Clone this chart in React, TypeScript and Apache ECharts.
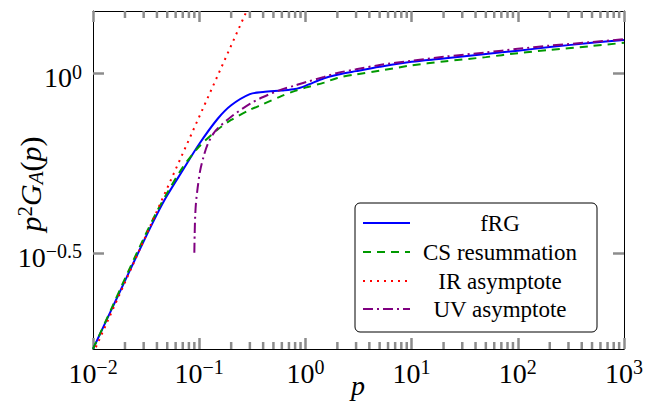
import React, { useEffect, useRef } from "react";
import * as echarts from "echarts";

// ---- data (p, p^2 G_A(p)) ----
const seriesNames = ["fRG", "CS resummation", "IR asymptote", "UV asymptote"];

const xTickExponents = [-2, -1, 0, 1, 2, 3];
const xTickLabels = ["−2", "−1", "0", "1", "2", "3"];
const yTickExponents = [-0.5, 0];
const yTickLabels = ["−0.5", "0"];

const fRGp = [0.01, 0.015, 0.02, 0.03, 0.04, 0.05, 0.07, 0.1, 0.15, 0.2, 0.3, 0.4, 0.6, 0.8, 1, 1.5, 2, 3, 5, 10, 20, 50, 100, 200, 500, 1000];
const fRGv = [0.1706, 0.2203, 0.2642, 0.3404, 0.4046, 0.4571, 0.537, 0.6353, 0.7482, 0.8147, 0.875, 0.8872, 0.8954, 0.9036, 0.9226, 0.9683, 0.9908, 1.0139, 1.0423, 1.0765, 1.099, 1.1324, 1.1561, 1.183, 1.2162, 1.2388];

const csP = [0.01, 0.015, 0.02, 0.03, 0.04, 0.05, 0.07, 0.1, 0.15, 0.2, 0.3, 0.4, 0.6, 0.8, 1, 1.5, 2, 3, 5, 10, 20, 50, 100, 200, 500, 1000];
const csV = [0.1706, 0.2218, 0.2679, 0.3467, 0.4121, 0.4645, 0.547, 0.6252, 0.6982, 0.7413, 0.7907, 0.8204, 0.865, 0.8933, 0.912, 0.9419, 0.9705, 0.9931, 1.0163, 1.052, 1.0789, 1.1092, 1.1376, 1.1614, 1.1912, 1.2162];

const irP = [0.01, 0.32];
const irV = [0.1656, 1.629];

const uvP = [0.09, 0.0906, 0.0916, 0.0933, 0.0966, 0.102, 0.11, 0.12, 0.136, 0.15, 0.2, 0.3, 0.4, 0.6, 0.8, 1, 1.5, 2, 3, 5, 10, 20, 50, 100, 200, 500, 1000];
const uvV = [0.3162, 0.3548, 0.3981, 0.4365, 0.4786, 0.5346, 0.5861, 0.6339, 0.6792, 0.7031, 0.7568, 0.8222, 0.859, 0.9016, 0.9247, 0.9441, 0.9772, 1.0023, 1.0257, 1.0544, 1.0839, 1.1117, 1.1429, 1.1695, 1.194, 1.2218, 1.2445];

const xRange = [0.01, 1000];
const yRange = [0.1706, 1.491];

const SERIF = '"Liberation Serif", "Times New Roman", serif';
const colors = ["#0000ff", "#009900", "#ff0000", "#800080"];
const dashes: (number[] | "solid")[] = ["solid", [8, 6], [2, 5], [10, 4, 2, 4]];

const toLog = (ps: number[], vs: number[]) => ps.map((p, i) => [Math.log10(p), Math.log10(vs[i])]);

export default function App() {
  const ref = useRef<HTMLDivElement>(null);

  useEffect(() => {
    if (!ref.current) return;
    const chart = echarts.init(ref.current, undefined, { renderer: "svg" });

    const xMin = Math.log10(xRange[0]);
    const xMax = Math.log10(xRange[1]);
    const yMin = Math.log10(yRange[0]);
    const yMax = Math.log10(yRange[1]);

    const minorX: number[] = [];
    for (let d = -2; d < 3; d++) {
      for (let k = 2; k <= 9; k++) minorX.push(d + Math.log10(k));
    }

    const rich = {
      b: { fontSize: 28, fontFamily: SERIF, lineHeight: 30, verticalAlign: "bottom", color: "#000" },
      s: { fontSize: 20, fontFamily: SERIF, lineHeight: 16, verticalAlign: "top", color: "#000" },
    };

    const TICK = "#8c8c8c";
    const TICK_W = 2.5;
    const frame = () => ({ show: true, onZero: false, lineStyle: { color: "#000", width: 1 } });
    const majorTick = (custom?: number[]) => ({
      show: true,
      inside: true,
      length: 11,
      lineStyle: { color: TICK, width: TICK_W },
      ...(custom ? { customValues: custom } : {}),
    });

    const lineData = [toLog(fRGp, fRGv), toLog(csP, csV), toLog(irP, irV), toLog(uvP, uvV)];

    // minor log ticks, top and bottom, placed through the cartesian scale
    const minorTickSeries = (values: number[], len: number) => ({
      type: "custom",
      coordinateSystem: "cartesian2d",
      xAxisIndex: 0,
      yAxisIndex: 0,
      silent: true,
      clip: false,
      z: 20,
      encode: { x: 0, y: 1 },
      data: values.map((v) => [v, yMin]),
      renderItem: (_p: any, api: any) => {
        const v = api.value(0);
        const b = api.coord([v, yMin]);
        const t = api.coord([v, yMax]);
        const style = { stroke: TICK, lineWidth: TICK_W, fill: null };
        return {
          type: "group",
          children: [
            { type: "line", shape: { x1: b[0], y1: b[1], x2: b[0], y2: b[1] - len }, style },
            { type: "line", shape: { x1: t[0], y1: t[1], x2: t[0], y2: t[1] + len }, style },
          ],
        };
      },
    });

    const legendX0 = 355, legendY0 = 203, legendW = 242, legendH = 129;
    const rowYs = [223, 252, 281, 309];

    const graphic: any[] = [
      {
        type: "rect",
        z: 50,
        shape: { x: legendX0, y: legendY0, width: legendW, height: legendH, r: 5 },
        style: { fill: "#fff", stroke: "#000", lineWidth: 1 },
      },
    ];
    seriesNames.forEach((name, i) => {
      graphic.push({
        type: "line",
        z: 51,
        shape: { x1: 363, y1: rowYs[i], x2: 410, y2: rowYs[i] },
        style: {
          stroke: colors[i],
          lineWidth: 2,
          lineDash: dashes[i] === "solid" ? null : dashes[i],
        },
      });
      graphic.push({
        type: "text",
        z: 51,
        x: 500,
        y: rowYs[i],
        style: {
          text: name,
          fill: "#000",
          font: `23px ${SERIF}`,
          align: "center",
          verticalAlign: "middle",
        },
      });
    });
    graphic.push({
      type: "text",
      z: 51,
      x: 30,
      y: 184,
      rotation: Math.PI / 2,
      style: {
        text: "{i|p}{s|2}{i|G}{u|A}{r|(}{i|p}{r|)}",
        align: "center",
        verticalAlign: "middle",
        rich: {
          i: { fontSize: 30, fontFamily: SERIF, fontStyle: "italic", lineHeight: 32, verticalAlign: "middle", fill: "#000" },
          r: { fontSize: 30, fontFamily: SERIF, lineHeight: 32, verticalAlign: "middle", fill: "#000" },
          s: { fontSize: 21, fontFamily: SERIF, lineHeight: 17, verticalAlign: "top", fill: "#000" },
          u: { fontSize: 21, fontFamily: SERIF, fontStyle: "italic", lineHeight: 19, verticalAlign: "bottom", fill: "#000" },
        },
      },
    });
    graphic.push({
      type: "text",
      z: 51,
      x: 358,
      y: 385,
      style: { text: "p", fill: "#000", font: `italic 28px ${SERIF}`, align: "center", verticalAlign: "middle" },
    });

    chart.setOption({
      animation: false,
      grid: { left: 93, top: 11, right: 33, bottom: 54, containLabel: false, outerBoundsMode: "none" },
      xAxis: [
        {
          type: "value",
          min: xMin,
          max: xMax,
          interval: 1,
          position: "bottom",
          splitLine: { show: false },
          axisLine: frame(),
          axisTick: majorTick(),
          axisLabel: {
            show: true,
            margin: 8,
            formatter: (v: number) => {
              const i = xTickExponents.findIndex((e) => Math.abs(e - v) < 1e-6);
              return i < 0 ? "" : `{b|10}{s|${xTickLabels[i]}}`;
            },
            rich,
          },
        },
        {
          type: "value",
          min: xMin,
          max: xMax,
          interval: 1,
          position: "top",
          splitLine: { show: false },
          axisLine: frame(),
          axisTick: majorTick(),
          axisLabel: { show: false },
        },
      ],
      yAxis: [
        {
          type: "value",
          min: yMin,
          max: yMax,
          position: "left",
          splitLine: { show: false },
          axisLine: frame(),
          axisTick: majorTick(yTickExponents),
          axisLabel: {
            show: true,
            margin: 11,
            customValues: yTickExponents,
            padding: [7, 0, 0, 0],
            formatter: (v: number) => {
              const i = yTickExponents.findIndex((e) => Math.abs(e - v) < 1e-6);
              return i < 0 ? "" : `{b|10}{s|${yTickLabels[i]}}`;
            },
            rich,
          },
        },
        {
          type: "value",
          min: yMin,
          max: yMax,
          position: "right",
          splitLine: { show: false },
          axisLine: frame(),
          axisTick: majorTick(yTickExponents),
          axisLabel: { show: false },
        },
      ],
      series: [
        minorTickSeries(minorX, 7),
        ...seriesNames.map((name, i) => ({
          name,
          type: "line",
          xAxisIndex: 0,
          yAxisIndex: 0,
          data: lineData[i],
          showSymbol: false,
          symbol: "none",
          smooth: i === 2 ? false : 0.3,
          clip: true,
          z: 30,
          lineStyle: { color: colors[i], width: 2, type: dashes[i] },
          itemStyle: { color: colors[i] },
        })),
      ],
      graphic,
    });

    return () => chart.dispose();
  }, []);

  return (
    <div
      ref={ref}
      style={{ position: "fixed", left: 0, top: 0, width: 657, height: 403, background: "#fff" }}
    />
  );
}
